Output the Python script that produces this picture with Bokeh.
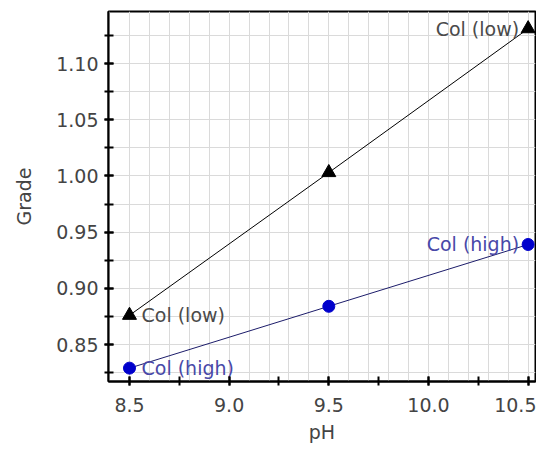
from bokeh.plotting import figure
from bokeh.models import SingleIntervalTicker, NumeralTickFormatter, Range1d, ColumnDataSource
from bokeh.core.properties import value
from bokeh.embed import file_html
from bokeh.resources import INLINE

ph = [8.5, 9.5, 10.5]
grade_low = [0.876, 1.003, 1.131]
grade_high = [0.829, 0.884, 0.939]
series_names = ["Col (low)", "Col (high)"]
label_colors = ["#4a4a4a", "#4848a8"]

FONT = "DejaVu Sans"

p = figure(width=536, height=448, output_backend="svg", toolbar_location=None,
           x_range=Range1d(8.3947, 10.537), y_range=Range1d(0.8171, 1.1463),
           min_border_left=108, min_border_right=1, min_border_top=11, min_border_bottom=67,
           x_axis_label="pH", y_axis_label="Grade")

p.outline_line_color = "black"
p.outline_line_width = 2
p.background_fill_color = "white"
p.border_fill_color = "white"

# grids
p.xgrid.ticker = SingleIntervalTicker(interval=0.1, num_minor_ticks=0)
p.ygrid.ticker = SingleIntervalTicker(interval=0.025, num_minor_ticks=0)
for g in (p.xgrid, p.ygrid):
    g.grid_line_color = "#dadada"
    g.grid_line_width = 1

p.xaxis.ticker = SingleIntervalTicker(interval=0.5, num_minor_ticks=2)
p.yaxis.ticker = SingleIntervalTicker(interval=0.05, num_minor_ticks=2)
p.xaxis.formatter = NumeralTickFormatter(format="0.0")
p.yaxis.formatter = NumeralTickFormatter(format="0.00")

for ax in (p.xaxis, p.yaxis):
    ax.axis_line_color = "black"
    ax.axis_line_width = 2
    ax.major_tick_line_color = "black"
    ax.major_tick_line_width = 2
    ax.minor_tick_line_color = "black"
    ax.minor_tick_line_width = 2
    ax.major_tick_in = 5
    ax.major_tick_out = 4
    ax.minor_tick_in = 5
    ax.minor_tick_out = 4
    ax.major_label_text_font = FONT
    ax.major_label_text_font_size = "19px"
    ax.major_label_text_color = "#444444"
    ax.axis_label_text_font = FONT
    ax.axis_label_text_font_size = "19px"
    ax.axis_label_text_font_style = "normal"
    ax.axis_label_text_color = "#444444"

p.xaxis.major_label_standoff = 12
p.yaxis.major_label_standoff = 6
p.xaxis.axis_label_standoff = 6
p.yaxis.axis_label_standoff = 18

# lines
p.line(ph, grade_low, line_color="black", line_width=1)
p.line(ph, grade_high, line_color="#1c1c6a", line_width=1)

p.scatter(ph, grade_low, marker="triangle", size=14, fill_color="black", line_color="black")
p.scatter(ph, grade_high, marker="circle", size=12, fill_color="#0000cc", line_color="#0000cc")

# end labels
first = ColumnDataSource(dict(x=[ph[0], ph[0]], y=[grade_low[0], grade_high[0]],
                              t=series_names, c=label_colors))
last = ColumnDataSource(dict(x=[ph[-1], ph[-1]], y=[grade_low[-1], grade_high[-1]],
                             t=series_names, c=label_colors))
p.text(x="x", y="y", text="t", text_color="c", source=first, x_offset=12,
       text_align="left", text_baseline="middle", text_font=value(FONT), text_font_size="19px")
p.text(x="x", y="y", text="t", text_color="c", source=last, x_offset=-9,
       text_align="right", text_baseline="middle", text_font=value(FONT), text_font_size="19px")

open("out.html", "w").write(file_html(p, INLINE))
